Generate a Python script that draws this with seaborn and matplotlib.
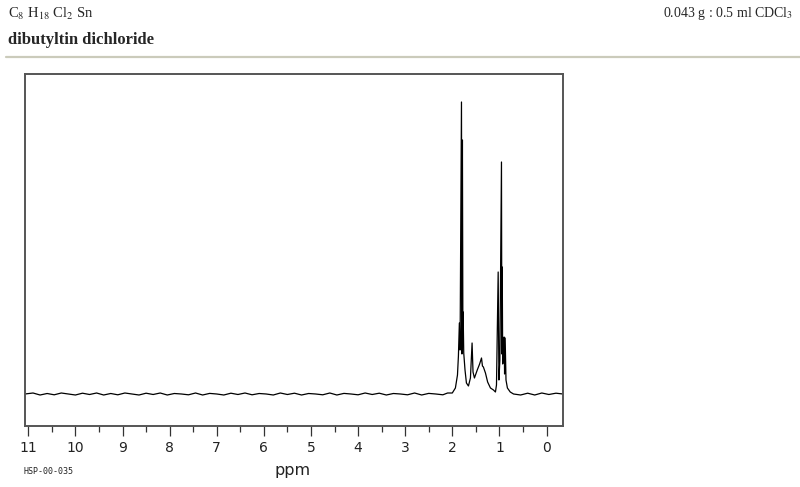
import pandas as pd
import seaborn as sns
import matplotlib.pyplot as plt
from matplotlib.lines import Line2D

# spectrum vertices (ppm, intensity in arbitrary units, baseline = 0)
ppm = [11.07, 10.9, 10.75, 10.6, 10.45, 10.3, 10.15, 10.0, 9.85, 9.7, 9.55, 9.4, 9.25,
       9.1, 8.95, 8.8, 8.65, 8.5, 8.35, 8.2, 8.05, 7.9, 7.75, 7.6, 7.45, 7.3, 7.15, 7.0,
       6.85, 6.7, 6.55, 6.4, 6.25, 6.1, 5.95, 5.8, 5.65, 5.5, 5.35, 5.2, 5.05, 4.9, 4.75,
       4.6, 4.45, 4.3, 4.15, 4.0, 3.85, 3.7, 3.55, 3.4, 3.25, 3.1, 2.95, 2.8, 2.65, 2.5,
       2.35, 2.2, 2.1,
       2.0, 1.934, 1.89, 1.87, 1.85, 1.835, 1.805, 1.795, 1.785, 1.775, 1.77, 1.757,
       1.73, 1.70, 1.657, 1.615, 1.58, 1.56, 1.53, 1.47, 1.42, 1.38, 1.36, 1.34, 1.296,
       1.25, 1.19, 1.126, 1.084, 1.062, 1.026, 1.01, 0.99, 0.956, 0.948, 0.94, 0.93,
       0.915, 0.90, 0.89, 0.878, 0.86, 0.83, 0.77, 0.70, 0.55, 0.4, 0.25, 0.1, -0.05,
       -0.2, -0.35]
intensity = [0, 1, -1, 0.5, -0.8, 1, 0, -1, 0.8, -0.5, 1, -1, 0.5,
             -0.8, 1, 0, -1, 0.8, -0.5, 1, -1, 0.5, 0, -0.8, 1, -1, 0.6, 0,
             -1, 0.8, -0.5, 1, -0.8, 0.5, 0, -1, 1, -0.5, 0.8, -1, 0.5, 0, -0.8,
             1, -1, 0.6, 0, -0.8, 1, -0.5, 0.8, -1, 0.5, 0, -0.8, 1, -1, 0.6,
             0, -0.8, 1,
             1, 6, 19, 38, 71, 44, 292, 40, 254, 60, 82, 41,
             24, 11, 8, 16, 51, 22, 16, 24, 30, 36, 28, 27, 21,
             12, 6, 4, 2, 9, 122, 14, 34, 232, 40, 127, 30,
             37, 57, 20, 56, 14, 6, 2, 0, -1, 0.8, -1, 1, -0.5,
             0.8, 0]

x_ticks = list(range(0, 12))

df = pd.DataFrame({'ppm': ppm, 'intensity': intensity})

sns.set_style('white')
plt.rcParams['font.family'] = ['DejaVu Sans']
plt.rcParams['mathtext.fontset'] = 'stix'

fig = plt.figure(figsize=(8, 4.87), dpi=100)
ax = fig.add_axes([25 / 800, 61 / 487, 538 / 800, 352 / 487])

sns.lineplot(data=df, x='ppm', y='intensity', sort=False, estimator=None,
             color='black', linewidth=0.9, ax=ax)

ax.set_xlim(11.07, -0.35)
ax.set_ylim(-32, 320)
ax.set_xticks(x_ticks)
ax.set_xticklabels([str(t) for t in x_ticks], fontsize=10, color='#222222')
ax.set_xticks([t + 0.5 for t in x_ticks[:-1]], minor=True)
ax.tick_params(axis='x', which='major', length=7.5, width=0.9, color='#333333',
               direction='out', bottom=True, pad=3)
ax.tick_params(axis='x', which='minor', length=4, width=0.9, color='#333333',
               direction='out', bottom=True)
ax.set_yticks([])
ax.set_xlabel('')
ax.set_ylabel('')
for s in ax.spines.values():
    s.set_color('#555555')
    s.set_linewidth(1.4)

# header
serif = ['Liberation Serif', 'DejaVu Serif']
fig.text(8 / 800, 1 - 14 / 487, r'C$_8$ H$_{18}$ Cl$_2$ Sn', family=serif,
         fontsize=10.5, va='center', ha='left')
fig.text(8 / 800, 1 - 40 / 487, 'dibutyltin dichloride', family=serif,
         fontsize=12, fontweight='bold', va='center', ha='left')
fig.text(793 / 800, 1 - 14 / 487, r'0.043 g : 0.5 ml CDCl$_3$', family=serif,
         fontsize=10, va='center', ha='right')
fig.add_artist(Line2D([6 / 800, 1.0], [1 - 57 / 487, 1 - 57 / 487],
                      transform=fig.transFigure, color='#cbcbbb', linewidth=1.6))

# footer
fig.text(293 / 800, 1 - 471 / 487, 'ppm', fontsize=11.5, ha='center', va='center',
         color='#222222')
fig.text(24 / 800, 1 - 472 / 487, 'HSP-00-035', family=['DejaVu Sans Mono'],
         fontsize=6, ha='left', va='center', color='#222222')

fig.savefig('out.png', dpi=100, facecolor='white')
